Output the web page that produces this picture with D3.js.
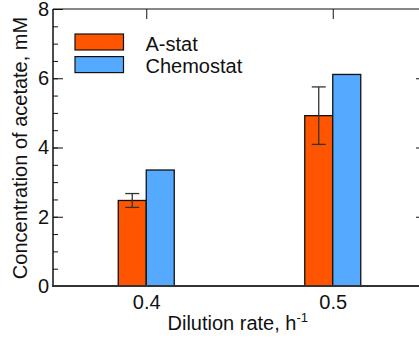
<!DOCTYPE html>
<html>
<head>
<meta charset="utf-8">
<script src="https://cdn.jsdelivr.net/npm/d3@7"></script>
<style>
  body { margin: 0; background: #fff; }
  svg { display: block; overflow: hidden; }
  text { font-family: "Liberation Sans", Arial, sans-serif; fill: #111; }
</style>
</head>
<body>
<script>
// Data
const rates = [0.4, 0.5];
const seriesNames = ["A-stat", "Chemostat"];
const seriesColors = ["#ff5500", "#55aaff"];
const astatValues = [2.47, 4.92];
const astatErrors = [0.2, 0.83];
const chemostatValues = [3.35, 6.11];
const yMajorTicks = [0, 2, 4, 6, 8];

const W = 419, H = 338;
const margin = { top: 9, left: 53, bottom: 52, right: -7 };
const plotRight = W - margin.right;
const plotBottom = H - margin.bottom;
const fontSize = "20px";

const svg = d3.select("body")
  .append("svg")
  .attr("width", W)
  .attr("height", H);

// Scales
const x = d3.scaleLinear()
  .domain([0.35, 0.55])
  .range([margin.left, plotRight]);

const y = d3.scaleLinear()
  .domain([0, 8])
  .range([plotBottom, margin.top]);

const xSub = d3.scaleBand()
  .domain(seriesNames)
  .range([-28, 28])
  .padding(0);

const color = d3.scaleOrdinal().domain(seriesNames).range(seriesColors);

// Build rows for the bars
const rows = [];
rates.forEach((r, i) => {
  rows.push({ rate: r, series: "A-stat", value: astatValues[i], err: astatErrors[i] });
  rows.push({ rate: r, series: "Chemostat", value: chemostatValues[i], err: null });
});

// Bars
svg.selectAll(".bar")
  .data(rows)
  .enter()
  .append("rect")
  .attr("class", "bar")
  .attr("x", d => x(d.rate) + xSub(d.series))
  .attr("y", d => y(d.value))
  .attr("width", xSub.bandwidth())
  .attr("height", d => y(0) - y(d.value))
  .attr("fill", d => color(d.series))
  .attr("stroke", "#111")
  .attr("stroke-width", 1.3);

// Error bars
const errRows = rows.filter(d => d.err != null);
const capHalf = 7;
const errG = svg.selectAll(".err")
  .data(errRows)
  .enter()
  .append("g")
  .attr("class", "err")
  .attr("stroke", "#333")
  .attr("stroke-width", 1.3);

errG.append("line")
  .attr("x1", d => x(d.rate) + xSub(d.series) + xSub.bandwidth() / 2)
  .attr("x2", d => x(d.rate) + xSub(d.series) + xSub.bandwidth() / 2)
  .attr("y1", d => y(d.value + d.err))
  .attr("y2", d => y(d.value - d.err));

[1, -1].forEach(s => {
  errG.append("line")
    .attr("x1", d => x(d.rate) + xSub(d.series) + xSub.bandwidth() / 2 - capHalf)
    .attr("x2", d => x(d.rate) + xSub(d.series) + xSub.bandwidth() / 2 + capHalf)
    .attr("y1", d => y(d.value + s * d.err))
    .attr("y2", d => y(d.value + s * d.err));
});

// Left axis: major ticks with labels (inward)
const leftMajor = svg.append("g")
  .attr("transform", "translate(" + margin.left + ",0)")
  .call(d3.axisLeft(y).tickValues(yMajorTicks).tickSize(-10).tickPadding(4).tickFormat(d3.format("d")));
leftMajor.select(".domain").remove();
leftMajor.selectAll("line").attr("stroke", "#111");
leftMajor.selectAll("text")
  .style("font-size", fontSize)
  .attr("font-family", null);

// Left axis: minor ticks
const leftMinor = svg.append("g")
  .attr("transform", "translate(" + margin.left + ",0)")
  .call(d3.axisLeft(y).tickValues(d3.range(0, 8.01, 0.5)).tickSize(-5).tickFormat(""));
leftMinor.select(".domain").remove();
leftMinor.selectAll("line").attr("stroke", "#111");

// Right axis ticks (inward, no labels)
const rightAx = svg.append("g")
  .attr("transform", "translate(" + plotRight + ",0)")
  .call(d3.axisRight(y).tickValues([2, 4, 6]).tickSize(-10).tickFormat(""));
rightAx.select(".domain").remove();
rightAx.selectAll("line").attr("stroke", "#111");

// Top axis ticks
const topAx = svg.append("g")
  .attr("transform", "translate(0," + margin.top + ")")
  .call(d3.axisTop(x).tickValues(rates).tickSize(-10).tickFormat(""));
topAx.select(".domain").remove();
topAx.selectAll("line").attr("stroke", "#111");

// Bottom axis labels
const bottomAx = svg.append("g")
  .attr("transform", "translate(0," + plotBottom + ")")
  .call(d3.axisBottom(x).tickValues(rates).tickSize(0).tickPadding(8.5).tickFormat(d3.format(".1f")));
bottomAx.select(".domain").remove();
bottomAx.selectAll("text")
  .style("font-size", fontSize)
  .attr("font-family", null);

// Frame
svg.append("line")
  .attr("x1", margin.left).attr("x2", plotRight)
  .attr("y1", margin.top).attr("y2", margin.top)
  .attr("stroke", "#111").attr("stroke-width", 1.2);
svg.append("line")
  .attr("x1", margin.left).attr("x2", margin.left)
  .attr("y1", margin.top).attr("y2", plotBottom)
  .attr("stroke", "#111").attr("stroke-width", 1.5);
svg.append("line")
  .attr("x1", plotRight).attr("x2", plotRight)
  .attr("y1", margin.top).attr("y2", plotBottom)
  .attr("stroke", "#111").attr("stroke-width", 1.5);
svg.append("line")
  .attr("x1", margin.left - 1).attr("x2", plotRight)
  .attr("y1", plotBottom).attr("y2", plotBottom)
  .attr("stroke", "#333").attr("stroke-width", 2);

// Legend
const legend = svg.selectAll(".legend")
  .data(seriesNames)
  .enter()
  .append("g")
  .attr("class", "legend")
  .attr("transform", (d, i) => "translate(75," + (34 + i * 22.6) + ")");

legend.append("rect")
  .attr("width", 48.5)
  .attr("height", 16)
  .attr("fill", d => color(d))
  .attr("stroke", "#111")
  .attr("stroke-width", 1.2);

legend.append("text")
  .attr("x", 70.5)
  .attr("y", 16.5)
  .style("font-size", fontSize)
  .text(d => d);

// Axis titles
const xTitle = svg.append("text")
  .attr("x", 167.5)
  .attr("y", 330)
  .style("font-size", fontSize);
xTitle.append("tspan").text("Dilution rate, h");
xTitle.append("tspan")
  .attr("dy", -8)
  .style("font-size", "13px")
  .text("-1");

svg.append("text")
  .attr("transform", "translate(27," + 148 + ") rotate(-90)")
  .attr("text-anchor", "middle")
  .style("font-size", fontSize)
  .text("Concentration of acetate,  mM");
</script>
</body>
</html>
